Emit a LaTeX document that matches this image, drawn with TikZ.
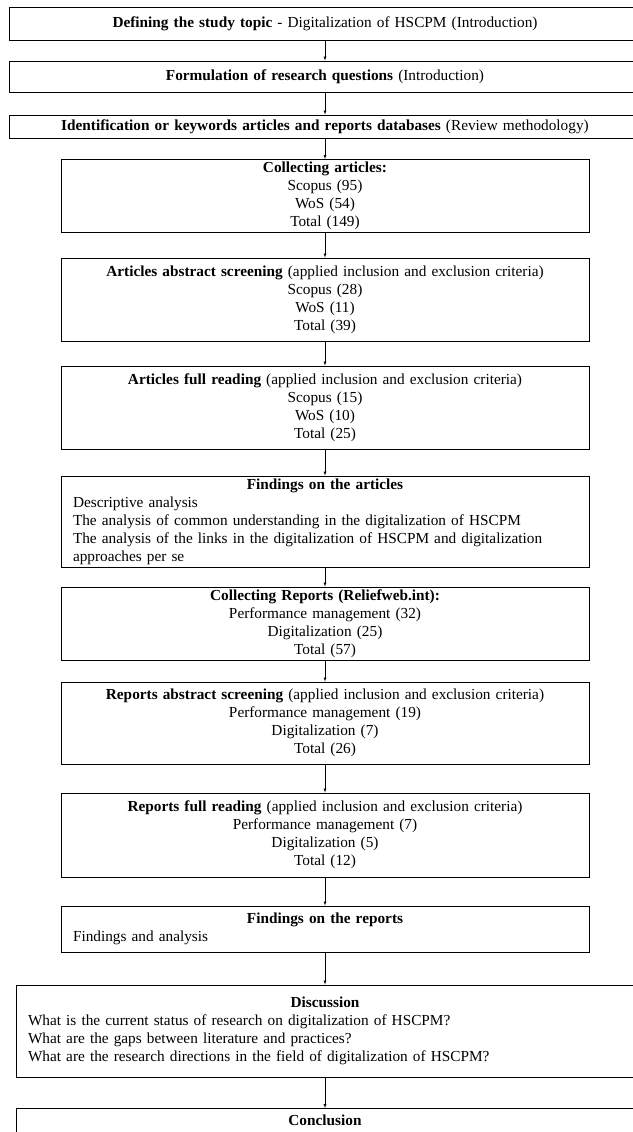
\documentclass[tikz,border=0pt]{standalone}
\usepackage{fontspec}
\setmainfont{Liberation Serif}
\usepackage{tikz}
\tikzstyle{stage}=[draw, line width=.9pt, inner sep=0pt, align=center, font=\fontsize{15.3}{18}\selectfont]
\tikzstyle{wide}=[stage, text width=632pt]
\tikzstyle{mid}=[stage, text width=528pt]
\tikzstyle{notes}=[stage, inner xsep=12pt, align=left]

\begin{document}
\begin{tikzpicture}[x=1pt, y=-1pt, >=latex]
\useasboundingbox (0,0) rectangle (632,1132);
\node[wide, minimum height=33pt] (b1) at (325,23.5) {\textbf{Defining the study topic} - Digitalization of HSCPM (Introduction)};
\node[wide, minimum height=31pt] (b2) at (325,76.5) {\textbf{Formulation of research questions} (Introduction)};
\node[wide, minimum height=23pt] (b3) at (325,126.5) {\textbf{Identification or keywords articles and reports databases} (Review methodology)};
\node[mid, minimum height=73pt] (b4) at (325,196) {\textbf{Collecting articles:}\\Scopus (95)\\WoS (54)\\Total (149)};
\node[mid, minimum height=83pt] (b5) at (325,299.5) {\textbf{Articles abstract screening} (applied inclusion and exclusion criteria)\\Scopus (28)\\WoS (11)\\Total (39)};
\node[mid, minimum height=83pt] (b6) at (325,407.5) {\textbf{Articles full reading} (applied inclusion and exclusion criteria)\\Scopus (15)\\WoS (10)\\Total (25)};
\node[notes, text width=504pt, minimum height=91pt] (b7) at (325,521.5) {\makebox[\linewidth]{\textbf{Findings on the articles}}\\Descriptive analysis\\The analysis of common understanding in the digitalization of HSCPM\\The analysis of the links in the digitalization of HSCPM and digitalization\\approaches per se};
\node[mid, minimum height=73pt] (b8) at (325,623.5) {\textbf{Collecting Reports (Reliefweb.int):}\\Performance management (32)\\Digitalization (25)\\Total (57)};
\node[mid, minimum height=82pt] (b9) at (325,723) {\textbf{Reports abstract screening} (applied inclusion and exclusion criteria)\\Performance management (19)\\Digitalization (7)\\Total (26)};
\node[mid, minimum height=84pt] (b10) at (325,835) {\textbf{Reports full reading} (applied inclusion and exclusion criteria)\\Performance management (7)\\Digitalization (5)\\Total (12)};
\node[notes, text width=504pt, minimum height=46pt] (b11) at (325,929) {\makebox[\linewidth]{\textbf{Findings on the reports}}\\Findings and analysis};
\node[notes, text width=594pt, minimum height=92pt] (b12) at (325,1031) {\makebox[\linewidth]{\textbf{Discussion}}\\What is the current status of research on digitalization of HSCPM?\\What are the gaps between literature and practices?\\What are the research directions in the field of digitalization of HSCPM?};
\node[stage, text width=618pt, minimum height=40pt, anchor=north, align=center, inner ysep=6pt] (b13) at (325,1108) {\textbf{Conclusion}\\[4pt]\strut};
\foreach \f/\t in {b1/b2, b2/b3, b3/b4, b4/b5, b5/b6, b6/b7, b7/b8, b8/b9, b9/b10, b10/b11, b11/b12, b12/b13}
  \draw[->] (\f) -- (\t);
\end{tikzpicture}
\end{document}
